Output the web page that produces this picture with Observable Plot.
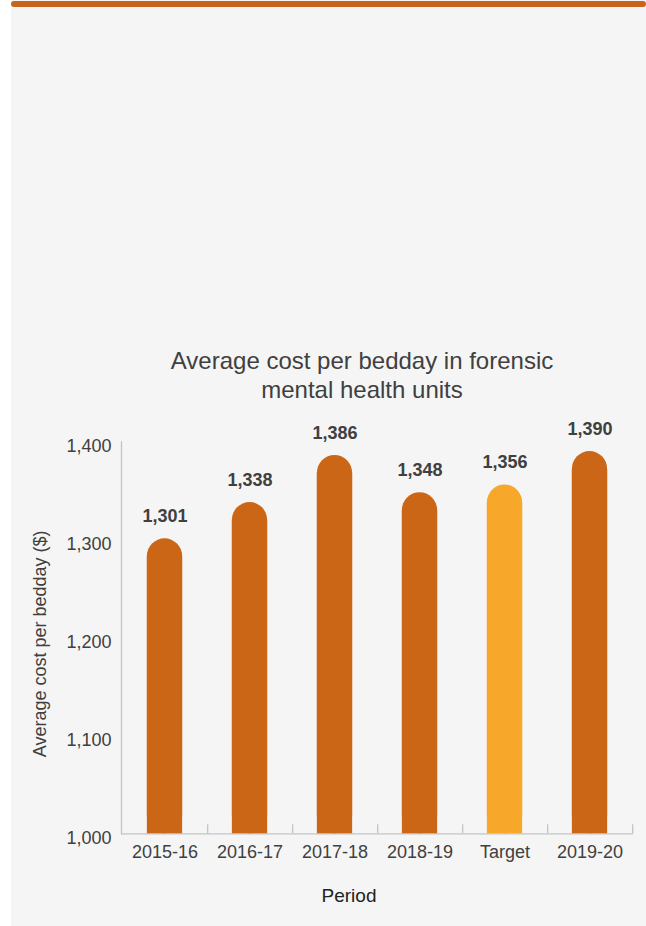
<!DOCTYPE html>
<html>
<head>
<meta charset="utf-8">
<script src="https://cdn.jsdelivr.net/npm/d3@7"></script>
<script src="https://cdn.jsdelivr.net/npm/@observablehq/plot@0.6"></script>
<style>
  html, body { margin: 0; padding: 0; background: #ffffff; }
  body { width: 646px; height: 926px; position: relative; overflow: hidden; font-family: "Liberation Sans", Arial, sans-serif; }
  #panel { position: absolute; left: 11px; top: 0; width: 635px; height: 926px; background: #f5f5f5; }
  #topbar { position: absolute; left: 11px; top: 1px; width: 635px; height: 6px; background: #c8651a; border-radius: 3px; }
  #title { position: absolute; left: 112px; top: 345.5px; width: 500px; text-align: center; font-size: 24px; line-height: 29px; color: #404040; }
  #chart { position: absolute; left: 0; top: 420px; }
</style>
</head>
<body>
<div id="panel"></div>
<div id="topbar"></div>
<div id="title">Average cost per bedday in forensic<br>mental health units</div>
<div id="chart"></div>
<script>
const categories = ["2015-16", "2016-17", "2017-18", "2018-19", "Target", "2019-20"];
const values = [1301, 1338, 1386, 1348, 1356, 1390];
const yTicks = [1000, 1100, 1200, 1300, 1400];
const yDomain = [1000, 1400];
const yLabel = "Average cost per bedday ($)";
const xLabel = "Period";
const highlight = "Target";

const data = categories.map((c, i) => ({period: c, value: values[i]}));
const baseline = yDomain[0];
const fmt = d3.format(",");

const W = 646, H = 506;
const mL = 121, mR = 13, mT = 21.3, mB = 92.7;
const band = (W - mL - mR) / categories.length;
const barW = 35.6;
const inset = (band - barW) / 2;

const dark = "#cb6616", light = "#f7a82b";
const fill = d => d.period === highlight ? light : dark;

const plot = Plot.plot({
  width: W, height: H,
  marginLeft: mL, marginRight: mR, marginTop: mT, marginBottom: mB,
  style: {background: "transparent", fontFamily: "Liberation Sans, Arial, sans-serif", fontSize: "18px", color: "#404040"},
  x: {type: "band", domain: categories, padding: 0, label: null},
  y: {domain: yDomain, label: null},
  marks: [
    Plot.ruleY([baseline], {stroke: "#c4c4c4", strokeWidth: 1.3}),
    Plot.frame({anchor: "left", stroke: "#c4c4c4", strokeWidth: 1.3}),
    Plot.axisX({text: null, tickSize: -9, dx: band / 2, stroke: "#c4c4c4", strokeWidth: 1.3, label: null}),
    Plot.axisX({tickSize: 0, tickPadding: 11, fontSize: 18, fill: "#404040", label: null}),
    Plot.axisY({ticks: yTicks, tickFormat: fmt, tickSize: 0, tickPadding: 10, dy: 4, fontSize: 18, fill: "#404040", label: null}),
    Plot.barY(data, {x: "period", y1: baseline, y2: "value", fill, insetLeft: inset, insetRight: inset, rx: barW / 2}),
    Plot.barY(data, {x: "period", y1: baseline, y2: "value", fill, insetLeft: inset, insetRight: inset, insetTop: barW / 2}),
    Plot.text(data, {x: "period", y: "value", text: d => fmt(d.value), dy: -22.5, fontSize: 18, fontWeight: "bold", fill: "#404040"}),
    Plot.text([yLabel], {frameAnchor: "left", textAnchor: "middle", lineAnchor: "middle", rotate: -90, dx: -81, dy: 6, fontSize: 18, fill: "#404040"}),
    Plot.text([xLabel], {frameAnchor: "bottom", textAnchor: "middle", lineAnchor: "middle", dx: -28.5, dy: 62.6, fontSize: 19, fill: "#222222"})
  ]
});
document.getElementById("chart").appendChild(plot);
</script>
</body>
</html>
